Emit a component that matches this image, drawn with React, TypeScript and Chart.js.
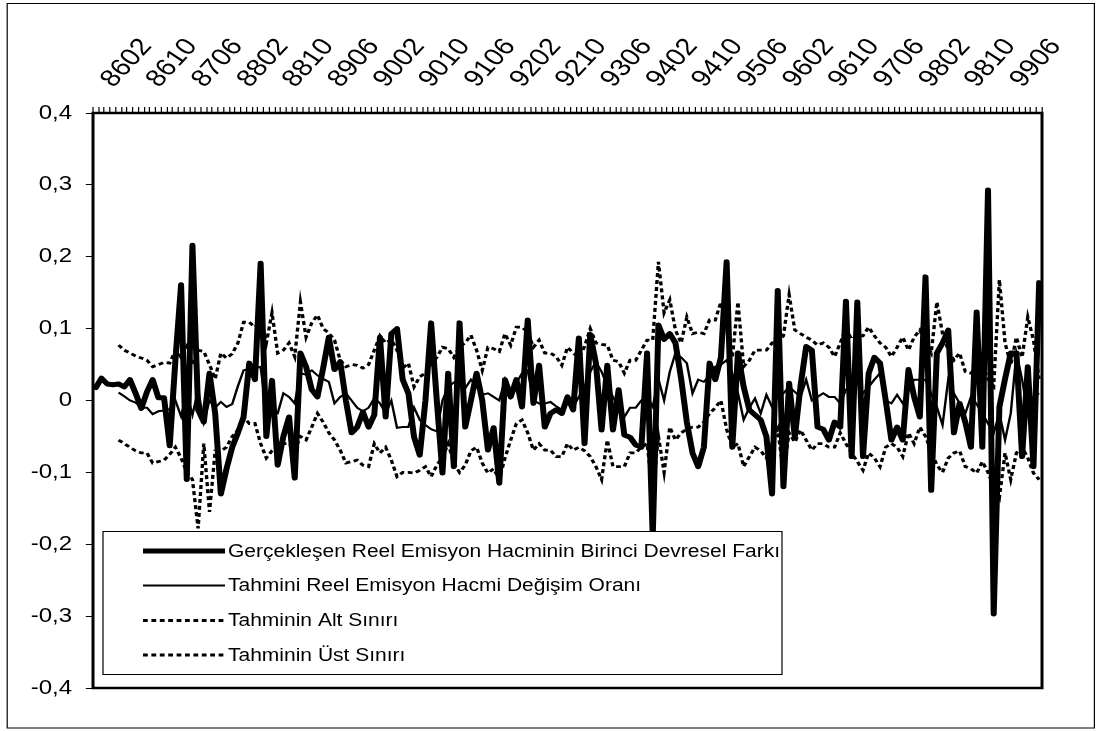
import React, { useEffect, useRef } from "react";
import { Chart, registerables } from "chart.js";

Chart.register(...registerables);

// ---------------- data ----------------
const FIRST_YEAR = 1986;
const FIRST_MONTH = 2;
const POINT_COUNT = 167;

const MONTH_LABELS: string[] = Array.from({ length: POINT_COUNT }, (_, i) => {
  const m = FIRST_MONTH - 1 + i;
  const y = (FIRST_YEAR + Math.floor(m / 12)) % 100;
  const mm = (m % 12) + 1;
  return String(y).padStart(2, "0") + String(mm).padStart(2, "0");
});

const SHOWN_TICKS = [
  "8602", "8610", "8706", "8802", "8810", "8906", "9002", "9010", "9106", "9202", "9210",
  "9306", "9402", "9410", "9506", "9602", "9610", "9706", "9802", "9810", "9906",
];

const SERIES_NAMES = [
  "Gerçekleşen Reel Emisyon Hacminin Birinci Devresel Farkı",
  "Tahmini Reel Emisyon Hacmi Değişim Oranı",
  "Tahminin Alt Sınırı",
  "Tahminin Üst Sınırı",
];

const ACTUAL: number[] = [
  0.018, 0.031, 0.023, 0.022, 0.023, 0.019, 0.029, 0.01, -0.011, 0.012,
  0.029, 0.004, 0.004, -0.063, 0.056, 0.161, -0.11, 0.216, -0.013, -0.03,
  0.038, -0.018, -0.13, -0.095, -0.065, -0.045, -0.023, 0.052, 0.029, 0.191,
  -0.05, 0.028, -0.09, -0.05, -0.023, -0.108, 0.066, 0.047, 0.015, 0.005,
  0.045, 0.088, 0.043, 0.054, 0.0, -0.045, -0.037, -0.016, -0.037, -0.02,
  0.088, -0.023, 0.093, 0.1, 0.029, 0.01, -0.051, -0.076, 0.0, 0.108,
  0.0, -0.101, 0.038, -0.092, 0.108, -0.037, 0.0, 0.038, 0.0, -0.069,
  -0.038, -0.115, 0.029, 0.005, 0.029, -0.009, 0.112, -0.004, 0.049, -0.037,
  -0.018, -0.013, -0.018, 0.005, -0.013, 0.087, -0.06, 0.092, 0.052, -0.041,
  0.049, -0.041, 0.015, -0.048, -0.051, -0.062, -0.065, 0.066, -0.19, 0.105,
  0.085, 0.093, 0.08, 0.03, -0.03, -0.073, -0.092, -0.065, 0.052, 0.029,
  0.06, 0.193, -0.065, 0.066, 0.019, -0.013, -0.02, -0.027, -0.05, -0.13,
  0.153, -0.12, 0.024, -0.051, 0.02, 0.075, 0.07, -0.037, -0.04, -0.055,
  -0.03, -0.037, 0.138, -0.078, 0.137, -0.078, 0.038, 0.06, 0.052, 0.0,
  -0.055, -0.037, -0.055, 0.043, 0.005, -0.023, 0.172, -0.125, 0.066, 0.08,
  0.098, -0.045, -0.004, -0.03, -0.065, 0.123, -0.065, 0.293, -0.297, -0.009,
  0.03, 0.066, 0.066, -0.078, 0.047, -0.092, 0.164,
];

const FORECAST: (number | null)[] = [
  null, null, null, null, 0.011, 0.006, 0.0, -0.003, -0.01, -0.01,
  -0.019, -0.015, -0.014, -0.012, 0.0, -0.022, 0.01, -0.02, 0.015, -0.03,
  0.0, -0.01, -0.002, -0.009, -0.005, 0.02, 0.042, 0.044, 0.045, 0.047,
  -0.018, -0.015, -0.018, 0.01, 0.005, -0.004, 0.038, 0.036, 0.042, 0.035,
  0.03, 0.026, -0.004, 0.005, 0.01, 0.0, -0.01, -0.015, -0.01, 0.003,
  -0.004, -0.018, 0.0, -0.038, -0.037, -0.037, -0.01, -0.027, -0.034, -0.04,
  -0.043, 0.0, 0.019, 0.025, 0.029, 0.017, 0.029, 0.02, 0.008, 0.01,
  0.005, 0.0, 0.029, 0.005, 0.024, 0.038, 0.042, 0.0, -0.004, -0.004,
  -0.002, -0.008, -0.013, 0.005, -0.009, 0.005, 0.019, 0.04, 0.054, 0.04,
  0.02, 0.005, -0.01, -0.023, -0.01, -0.01, 0.0, 0.005, -0.009, 0.03,
  0.0, 0.04, 0.066, 0.06, 0.052, 0.01, 0.029, 0.026, 0.035, 0.047,
  0.05, 0.056, 0.038, 0.01, -0.027, -0.01, 0.003, -0.018, 0.008, -0.009,
  0.005, 0.01, 0.019, 0.012, 0.005, 0.029, 0.0, 0.005, 0.01, 0.005,
  0.005, -0.004, 0.015, 0.02, 0.029, 0.01, 0.019, 0.029, 0.038, 0.0,
  -0.004, 0.008, -0.004, 0.015, 0.029, 0.029, 0.029, 0.01, -0.009, -0.034,
  0.029, 0.01, -0.004, -0.018, 0.005, -0.005, -0.018, -0.032, -0.045, -0.018,
  -0.055, -0.018, 0.066, 0.029, -0.018, 0.005, 0.01,
];

const LOWER: (number | null)[] = [
  null, null, null, null, -0.055, -0.06, -0.065, -0.07, -0.073, -0.073,
  -0.087, -0.085, -0.083, -0.075, -0.065, -0.08, -0.1, -0.11, -0.178, -0.06,
  -0.155, -0.07, -0.07, -0.065, -0.05, -0.041, -0.023, -0.032, -0.032, -0.06,
  -0.08, -0.07, -0.065, -0.06, -0.06, -0.07, -0.05, -0.055, -0.037, -0.018,
  -0.03, -0.045, -0.055, -0.069, -0.087, -0.085, -0.083, -0.09, -0.092, -0.06,
  -0.073, -0.065, -0.083, -0.106, -0.1, -0.1, -0.101, -0.097, -0.092, -0.106,
  -0.09, -0.079, -0.06, -0.087, -0.1, -0.09, -0.07, -0.065, -0.087, -0.101,
  -0.095, -0.11, -0.08, -0.055, -0.032, -0.027, -0.045, -0.069, -0.06, -0.069,
  -0.069, -0.078, -0.078, -0.06, -0.069, -0.065, -0.07, -0.078, -0.092, -0.11,
  -0.055, -0.092, -0.092, -0.092, -0.073, -0.073, -0.065, -0.06, -0.125, -0.05,
  -0.1, -0.037, -0.055, -0.045, -0.04, -0.037, -0.037, -0.03, -0.018, -0.01,
  0.0, -0.04, -0.065, -0.06, -0.092, -0.078, -0.065, -0.07, -0.08, -0.06,
  -0.04, -0.1, -0.045, -0.058, -0.041, -0.055, -0.069, -0.06, -0.06, -0.065,
  -0.065, -0.045, -0.06, -0.073, -0.085, -0.097, -0.073, -0.08, -0.092, -0.065,
  -0.06, -0.065, -0.078, -0.045, -0.06, -0.037, -0.05, -0.07, -0.09, -0.1,
  -0.08, -0.073, -0.07, -0.092, -0.095, -0.101, -0.085, -0.1, -0.12, -0.135,
  -0.073, -0.11, -0.073, -0.065, -0.08, -0.101, -0.11,
];

const UPPER: (number | null)[] = [
  null, null, null, null, 0.077, 0.07, 0.066, 0.062, 0.059, 0.056,
  0.047, 0.05, 0.053, 0.052, 0.07, 0.06, 0.075, 0.05, 0.07, 0.068,
  0.05, 0.03, 0.066, 0.059, 0.065, 0.08, 0.109, 0.109, 0.102, 0.11,
  0.08, 0.122, 0.066, 0.07, 0.08, 0.061, 0.137, 0.088, 0.108, 0.119,
  0.1, 0.094, 0.084, 0.056, 0.047, 0.05, 0.049, 0.045, 0.05, 0.07,
  0.09, 0.08, 0.085, 0.07, 0.045, 0.052, 0.019, 0.033, 0.038, 0.05,
  0.06, 0.074, 0.072, 0.06, 0.075, 0.08, 0.091, 0.07, 0.042, 0.074,
  0.072, 0.068, 0.093, 0.077, 0.102, 0.102, 0.095, 0.074, 0.084, 0.066,
  0.066, 0.061, 0.049, 0.074, 0.066, 0.06, 0.075, 0.1, 0.08, 0.078,
  0.077, 0.056, 0.054, 0.038, 0.056, 0.056, 0.07, 0.084, 0.084, 0.193,
  0.122, 0.14, 0.098, 0.08, 0.116, 0.093, 0.095, 0.093, 0.112, 0.112,
  0.137, 0.1, 0.06, 0.137, 0.047, 0.056, 0.07, 0.07, 0.07, 0.08,
  0.08, 0.09, 0.147, 0.098, 0.093, 0.088, 0.084, 0.077, 0.08, 0.074,
  0.061, 0.08, 0.1, 0.085, 0.09, 0.09, 0.102, 0.09, 0.08, 0.074,
  0.061, 0.074, 0.088, 0.07, 0.088, 0.098, 0.08, 0.066, 0.137, 0.093,
  0.07, 0.056, 0.066, 0.04, 0.038, 0.045, 0.05, 0.03, 0.02, 0.168,
  0.08, 0.05, 0.088, 0.06, 0.116, 0.084, 0.03,
];

const Y_MIN = -0.4;
const Y_MAX = 0.4;
const Y_STEP = 0.1;

// ---------------- layout (logical units; canvas is stretched horizontally) ----------------
const PAGE_W = 1098;
const PAGE_H = 731;
const SX = 1.2;
const LOGICAL_W = Math.round(PAGE_W / SX); // 915
const FONT = "'Liberation Sans', Arial, Helvetica, sans-serif";

const LEGEND_BOX = { x0: 103 / SX, y0: 531, x1: 782 / SX, y1: 674 };
const LEGEND_ROWS = [551, 585.5, 620.5, 655];
const LEGEND_LINE = { x0: 143 / SX, x1: 225 / SX, text: 228 / SX };

const SERIES_STYLE = [
  { width: 5, dash: [] as number[] },
  { width: 2, dash: [] as number[] },
  { width: 2.8, dash: [4, 3] },
  { width: 2.8, dash: [4, 3] },
];

const stretchPlugin = {
  id: "stretchAndDecor",
  beforeDraw(chart: any) {
    const ctx: CanvasRenderingContext2D = chart.ctx;
    ctx.save();
    ctx.setTransform(SX, 0, 0, 1, 0, 0);
    ctx.save();
    ctx.fillStyle = "#fff";
    ctx.fillRect(0, 0, LOGICAL_W, PAGE_H);
    ctx.strokeStyle = "#000";
    ctx.lineWidth = 1;
    ctx.strokeRect(6, 3.5, 906, 724.5);
    ctx.restore();
  },
  afterDatasetsDraw(chart: any) {
    const ctx: CanvasRenderingContext2D = chart.ctx;
    const { left, top, right, bottom } = chart.chartArea;
    ctx.save();
    ctx.strokeStyle = "#000";
    ctx.lineWidth = 2.5;
    ctx.strokeRect(left, top, right - left, bottom - top);
    ctx.restore();
  },
  afterDraw(chart: any) {
    const ctx: CanvasRenderingContext2D = chart.ctx;
    ctx.save();
    const b = LEGEND_BOX;
    ctx.fillStyle = "#fff";
    ctx.fillRect(b.x0, b.y0, b.x1 - b.x0, b.y1 - b.y0);
    ctx.strokeStyle = "#000";
    ctx.lineWidth = 1;
    ctx.strokeRect(b.x0, b.y0 + 0.5, b.x1 - b.x0, b.y1 - b.y0);
    SERIES_NAMES.forEach((name, i) => {
      const y = LEGEND_ROWS[i];
      const st = SERIES_STYLE[i];
      ctx.beginPath();
      ctx.setLineDash(st.dash);
      ctx.lineWidth = st.width;
      ctx.lineCap = "butt";
      ctx.moveTo(LEGEND_LINE.x0, y);
      ctx.lineTo(LEGEND_LINE.x1, y);
      ctx.stroke();
      ctx.setLineDash([]);
      ctx.fillStyle = "#000";
      ctx.font = `17.5px ${FONT}`;
      ctx.textBaseline = "middle";
      ctx.textAlign = "left";
      ctx.fillText(name, LEGEND_LINE.text, y + 1);
    });
    ctx.restore();
    ctx.restore();
  },
};

function formatY(v: number): string {
  const n = Math.round(v * 10) / 10;
  if (n === 0) return "0";
  return n.toFixed(1).replace(".", ",");
}

export default function App() {
  const ref = useRef<HTMLCanvasElement>(null);

  useEffect(() => {
    const canvas = ref.current!;
    canvas.width = LOGICAL_W;
    canvas.height = PAGE_H;
    const chart = new Chart(canvas, {
      type: "line",
      data: {
        labels: MONTH_LABELS,
        datasets: [
          {
            label: SERIES_NAMES[0],
            data: ACTUAL,
            borderColor: "#000",
            borderWidth: SERIES_STYLE[0].width,
            pointRadius: 0,
            borderJoinStyle: "round",
            borderCapStyle: "round",
            tension: 0,
            fill: false,
            order: 0,
          },
          {
            label: SERIES_NAMES[1],
            data: FORECAST,
            borderColor: "#000",
            borderWidth: SERIES_STYLE[1].width,
            pointRadius: 0,
            tension: 0,
            fill: false,
            order: 1,
          },
          {
            label: SERIES_NAMES[2],
            data: LOWER,
            borderColor: "#000",
            borderWidth: SERIES_STYLE[2].width,
            borderDash: SERIES_STYLE[2].dash,
            pointRadius: 0,
            tension: 0,
            fill: false,
            order: 2,
          },
          {
            label: SERIES_NAMES[3],
            data: UPPER,
            borderColor: "#000",
            borderWidth: SERIES_STYLE[3].width,
            borderDash: SERIES_STYLE[3].dash,
            pointRadius: 0,
            tension: 0,
            fill: false,
            order: 3,
          },
        ],
      },
      options: {
        responsive: false,
        animation: false,
        events: [],
        layout: { padding: { left: 0, top: 0, right: LOGICAL_W - 1042 / SX, bottom: PAGE_H - 688 } },
        plugins: { legend: { display: false }, tooltip: { enabled: false } },
        scales: {
          x: {
            type: "category",
            position: "top",
            offset: true,
            grid: {
              offset: true,
              drawOnChartArea: false,
              drawTicks: true,
              tickLength: 6,
              color: "#000",
              lineWidth: 1,
            },
            border: { display: false },
            ticks: {
              autoSkip: false,
              minRotation: 52,
              maxRotation: 52,
              padding: 14,
              labelOffset: 32,
              color: "#000",
              font: { family: FONT, size: 24 },
              callback: (_v: any, i: number) =>
                SHOWN_TICKS.includes(MONTH_LABELS[i]) ? MONTH_LABELS[i] : "",
            },
            afterFit: (s: any) => {
              s.height = 113;
            },
          },
          y: {
            min: Y_MIN,
            max: Y_MAX,
            grid: {
              drawOnChartArea: false,
              drawTicks: true,
              tickLength: 6,
              color: "#000",
              lineWidth: 1,
            },
            border: { display: false },
            ticks: {
              stepSize: Y_STEP,
              padding: 11.5,
              color: "#000",
              font: { family: FONT, size: 20 },
              callback: (v: any) => formatY(Number(v)),
            },
            afterFit: (s: any) => {
              s.width = 93 / SX;
            },
          },
        },
      },
      plugins: [stretchPlugin],
    } as any);
    // widen the backing store so the plugin's horizontal stretch fills the page
    canvas.width = PAGE_W;
    chart.draw();
    return () => chart.destroy();
  }, []);

  return (
    <div style={{ position: "fixed", left: 0, top: 0, width: PAGE_W, height: PAGE_H, background: "#fff" }}>
      <canvas
        ref={ref}
        width={LOGICAL_W}
        height={PAGE_H}
        style={{ width: `${PAGE_W}px`, height: `${PAGE_H}px`, display: "block" }}
      />
    </div>
  );
}
